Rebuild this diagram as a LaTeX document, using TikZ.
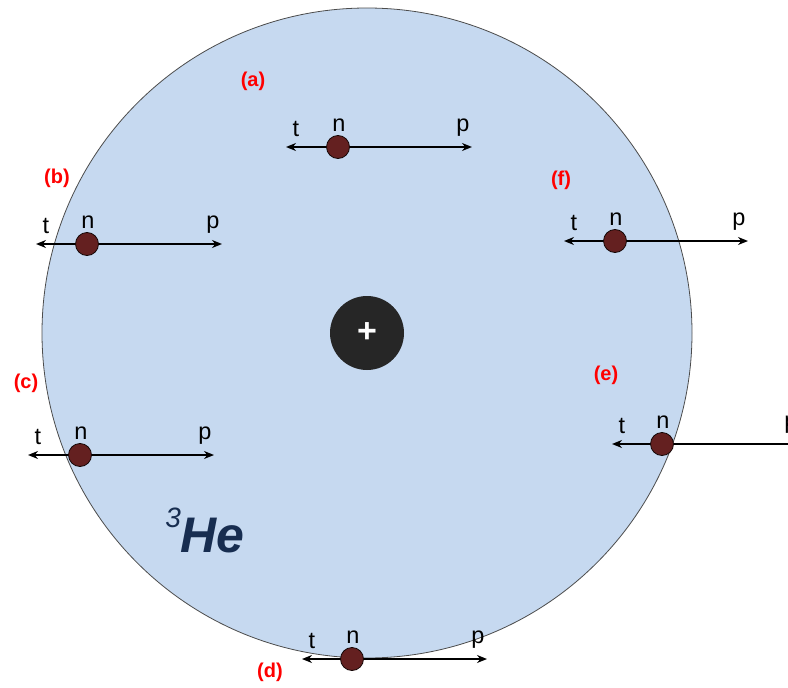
\documentclass[tikz,border=0pt]{standalone}
\usepackage{fontspec}
\setmainfont{Liberation Sans}
\usetikzlibrary{arrows.meta}
\definecolor{bgblue}{RGB}{198,217,240}
\definecolor{neut}{RGB}{100,32,32}
\definecolor{navy}{RGB}{23,45,80}
\tikzset{
  x=1pt,y=-1pt,
  neutron/.style={circle,fill=neut,draw=black!80!neut,line width=0.8pt,minimum size=23pt,inner sep=0pt},
  axis/.style={line width=1.8pt,{Stealth[length=10pt,width=8pt]}-{Stealth[length=10pt,width=8pt]}},
  lbl/.style={font=\fontsize{23.5}{23.5}\selectfont,inner sep=0pt},
  tag/.style={font=\fontsize{20}{20}\selectfont\bfseries,text=red,inner sep=0pt}
}
\begin{document}
\begin{tikzpicture}
\useasboundingbox (0,0) rectangle (788,688);
\clip (0,0) rectangle (788,688);
\node[circle,fill=bgblue,draw=black!70,line width=0.8pt,minimum size=650pt,inner sep=0pt] (he) at (367,333) {};
\node[circle,fill=black!85,minimum size=74pt,inner sep=0pt,text=white,font=\fontsize{34}{34}\selectfont\bfseries] (nuc) at (367,333) {+};
\node[font=\fontsize{50}{50}\selectfont\bfseries\itshape,text=navy,inner sep=0pt] (lab) at (205,530) {\raisebox{0.5em}{\fontsize{28}{28}\selectfont\mdseries\itshape 3}He};
% group definition
\newcommand{\grp}[5]{%
  % #1 name, #2 left x, #3 neutron x, #4 right x, #5 y
  \coordinate (#1l) at (#2,#5);
  \coordinate (#1r) at (#4,#5);
  \draw[axis] (#1l) -- (#1r);
  \node[neutron] (#1n) at (#3,#5) {};
  \node[lbl,anchor=south] (#1tt) at (#2+10,#5-10) {t};
  \node[lbl,anchor=south] (#1nn) at (#3+1,#5-15) {n};
  \node[lbl,anchor=south] (#1pp) at (#4-9,#5-10) {p};
}
\grp{a}{286}{338}{472}{147}
\grp{b}{36}{87}{222}{244}
\grp{f}{564}{615}{748}{241}
\grp{c}{28}{80}{214}{455}
\grp{e}{612}{662}{800}{444}
\grp{d}{302}{352}{487}{659}
\node[tag] (ta) at (253,81) {(a)};
\node[tag] (tb) at (57,178) {(b)};
\node[tag] (tf) at (561,180) {(f)};
\node[tag] (tc) at (26,383) {(c)};
\node[tag] (te) at (606,375) {(e)};
\node[tag] (td) at (270,672) {(d)};
\end{tikzpicture}
\end{document}
